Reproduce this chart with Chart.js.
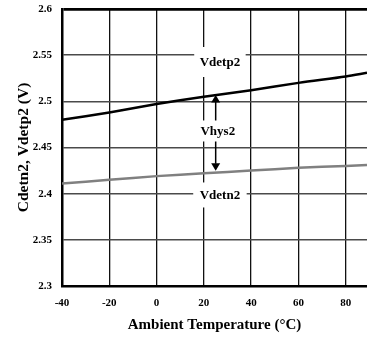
<!DOCTYPE html>
<html>
<head>
<meta charset="utf-8">
<script src="https://cdn.jsdelivr.net/npm/chart.js@4/dist/chart.umd.min.js"></script>
<style>
  html, body { margin: 0; padding: 0; background: #fff; }
  #wrap { width: 367px; height: 340px; position: relative; }
</style>
</head>
<body>
<div id="wrap"><canvas id="c" width="367" height="340"></canvas></div>
<script>
// ---- data ----
const temps = [-40, -20, 0, 20, 40, 60, 80, 89];
const vdetp2 = [2.480, 2.488, 2.497, 2.505, 2.512, 2.520, 2.527, 2.531];
const vdetn2 = [2.411, 2.415, 2.419, 2.422, 2.425, 2.428, 2.430, 2.431];
const xTicks = [-40, -20, 0, 20, 40, 60, 80];
const yTicks = [2.3, 2.35, 2.4, 2.45, 2.5, 2.55, 2.6];
const seriesNames = ['Vdetp2', 'Vdetn2'];
const hysName = 'Vhys2';
const hysTemp = 25;

const FONT = "'Liberation Serif', 'Times New Roman', serif";

const annotPlugin = {
  id: 'annot',
  afterDatasetsDraw(chart) {
    const ctx = chart.ctx;
    const xs = chart.scales.x, ys = chart.scales.y;
    ctx.save();
    ctx.font = 'bold 13px ' + FONT;
    ctx.textAlign = 'center';
    ctx.textBaseline = 'middle';
    function box(text, t, v, bw, bh) {
      const cx = xs.getPixelForValue(t), cy = ys.getPixelForValue(v);
      const w = ctx.measureText(text).width + bw;
      ctx.fillStyle = '#fff';
      ctx.fillRect(cx - w / 2, cy - bh / 2, w, bh);
      ctx.fillStyle = '#000';
      ctx.fillText(text, cx, cy + 1);
      return { top: cy - bh / 2, bottom: cy + bh / 2 };
    }
    box(seriesNames[0], 26.8, 2.5426, 11, 30);
    box(seriesNames[1], 26.8, 2.3986, 13, 25);
    const hb = box(hysName, 25.9, 2.4679, 6, 21);
    // arrows
    const ax = xs.getPixelForValue(hysTemp);
    const i = temps.indexOf(20);
    const f = (hysTemp - temps[i]) / (temps[i + 1] - temps[i]);
    const pTop = ys.getPixelForValue(vdetp2[i] + f * (vdetp2[i + 1] - vdetp2[i]));
    const pBot = ys.getPixelForValue(vdetn2[i] + f * (vdetn2[i + 1] - vdetn2[i])) - 2;
    ctx.strokeStyle = '#000';
    ctx.fillStyle = '#000';
    ctx.lineWidth = 1.5;
    ctx.beginPath();
    ctx.moveTo(ax, hb.top); ctx.lineTo(ax, pTop + 7);
    ctx.moveTo(ax, hb.bottom); ctx.lineTo(ax, pBot - 7);
    ctx.stroke();
    ctx.beginPath();
    ctx.moveTo(ax, pTop); ctx.lineTo(ax - 4.5, pTop + 7.5); ctx.lineTo(ax + 4.5, pTop + 7.5); ctx.closePath();
    ctx.fill();
    ctx.beginPath();
    ctx.moveTo(ax, pBot); ctx.lineTo(ax - 4.5, pBot - 7.5); ctx.lineTo(ax + 4.5, pBot - 7.5); ctx.closePath();
    ctx.fill();
    ctx.restore();
  }
};

new Chart(document.getElementById('c'), {
  type: 'line',
  data: {
    datasets: [
      { label: seriesNames[0], data: temps.map((t, k) => ({ x: t, y: vdetp2[k] })),
        borderColor: '#000', borderWidth: 2.5, pointRadius: 0, tension: 0.3, fill: false },
      { label: seriesNames[1], data: temps.map((t, k) => ({ x: t, y: vdetn2[k] })),
        borderColor: '#808080', borderWidth: 2.5, pointRadius: 0, tension: 0.3, fill: false }
    ]
  },
  options: {
    responsive: false,
    animation: false,
    devicePixelRatio: 1,
    layout: { padding: { left: 0, right: 0, top: 9, bottom: 0 } },
    plugins: { legend: { display: false }, tooltip: { enabled: false } },
    scales: {
      x: {
        type: 'linear',
        min: -40, max: 89,
        afterBuildTicks: s => { s.ticks = xTicks.map(v => ({ value: v })); },
        afterFit: s => { s.height = 54; s.paddingRight = 0; },
        ticks: { font: { family: FONT, size: 11, weight: 'bold' }, color: '#000', padding: 11 },
        grid: { color: '#111', lineWidth: 1.3, drawTicks: false },
        border: { display: true, color: '#000', width: 2.5 },
        title: { display: true, text: 'Ambient Temperature (°C)', color: '#000',
                 font: { family: FONT, size: 15, weight: 'bold' }, padding: { top: 0, bottom: 6 } }
      },
      y: {
        type: 'linear',
        min: 2.3, max: 2.6,
        afterBuildTicks: s => { s.ticks = yTicks.map(v => ({ value: v })); },
        afterFit: s => { s.width = 62; s.paddingTop = 0; s.paddingBottom = 0; },
        ticks: { font: { family: FONT, size: 11, weight: 'bold' }, color: '#000', padding: 10,
                 callback: v => String(Math.round(v * 100) / 100) },
        grid: {
          drawTicks: false,
          color: c => (c.tick && Math.abs(c.tick.value - 2.6) < 1e-9) ? '#000' : '#4a4a4a',
          lineWidth: c => (c.tick && Math.abs(c.tick.value - 2.6) < 1e-9) ? 2.7 : 1.6
        },
        border: { display: true, color: '#000', width: 2.5 },
        title: { display: true, text: 'Cdetn2, Vdetp2 (V)', color: '#000',
                 font: { family: FONT, size: 15.5, weight: 'bold' }, padding: { top: 15, bottom: 0 } }
      }
    }
  },
  plugins: [annotPlugin]
});
</script>
</body>
</html>
